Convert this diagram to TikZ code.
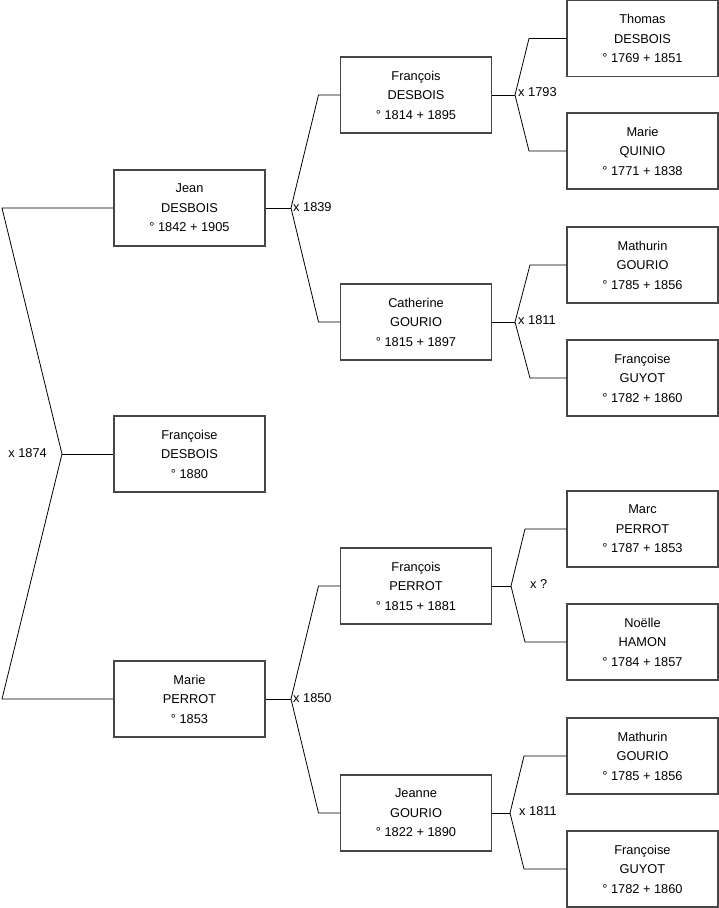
\documentclass[tikz,border=0pt]{standalone}
\usepackage{fontspec}
\setmainfont{Liberation Sans}
\begin{document}
\begin{tikzpicture}[x=1pt,y=-1pt,
  person/.style={draw={rgb,255:red,70;green,70;blue,70}, line width=1.1pt, fill=white,
    minimum width=151pt, minimum height=76pt, inner sep=0pt, align=center,
    font=\fontsize{12.8}{19.5}\selectfont},
  link/.style={draw=black, line width=0.8pt},
  marr/.style={font=\fontsize{12.8}{14}\selectfont, inner sep=1pt}]
\useasboundingbox (0,0) rectangle (719,908);
% column 1
\node[person] (jean) at (189.5,208) {Jean\\DESBOIS\\° 1842 + 1905};
\node[person] (fde) at (189.5,454) {Françoise\\DESBOIS\\° 1880};
\node[person] (marie) at (189.5,699) {Marie\\PERROT\\° 1853};
% column 2
\node[person] (frd) at (416,95) {François\\DESBOIS\\° 1814 + 1895};
\node[person] (cat) at (416,322) {Catherine\\GOURIO\\° 1815 + 1897};
\node[person] (frp) at (416,586) {François\\PERROT\\° 1815 + 1881};
\node[person] (jea) at (416,813) {Jeanne\\GOURIO\\° 1822 + 1890};
% column 3
\node[person] (tho) at (642.5,38.5) {Thomas\\DESBOIS\\° 1769 + 1851};
\node[person] (maq) at (642.5,151) {Marie\\QUINIO\\° 1771 + 1838};
\node[person] (mat1) at (642.5,265) {Mathurin\\GOURIO\\° 1785 + 1856};
\node[person] (fgu1) at (642.5,378) {Françoise\\GUYOT\\° 1782 + 1860};
\node[person] (mar) at (642.5,529) {Marc\\PERROT\\° 1787 + 1853};
\node[person] (noe) at (642.5,642) {Noëlle\\HAMON\\° 1784 + 1857};
\node[person] (mat2) at (642.5,756) {Mathurin\\GOURIO\\° 1785 + 1856};
\node[person] (fgu2) at (642.5,869) {Françoise\\GUYOT\\° 1782 + 1860};
% coordinates
\coordinate (l1) at (2,208);
\coordinate (lv) at (62,454);
\coordinate (l2) at (2,699);
\coordinate (av) at (291,208);
\coordinate (a1) at (318.5,95);
\coordinate (a2) at (318.5,322);
\coordinate (bv) at (291,699);
\coordinate (b1) at (318.5,586);
\coordinate (b2) at (318.5,813);
\coordinate (cv) at (515,95);
\coordinate (c1) at (529,38.5);
\coordinate (c2) at (529,151);
\coordinate (dv) at (515,322);
\coordinate (d1) at (530,265);
\coordinate (d2) at (530,378);
\coordinate (ev) at (511,586);
\coordinate (e1) at (525,529);
\coordinate (e2) at (525,642);
\coordinate (fv) at (510,813);
\coordinate (f1) at (524,756);
\coordinate (f2) at (524,869);
% connectors
\draw[link] (jean.west) -- (l1) -- (lv) -- (l2) -- (marie.west);
\draw[link] (lv) -- (fde.west);
\draw[link] (jean.east) -- (av);
\draw[link] (frd.west) -- (a1) -- (av) -- (a2) -- (cat.west);
\draw[link] (marie.east) -- (bv);
\draw[link] (frp.west) -- (b1) -- (bv) -- (b2) -- (jea.west);
\draw[link] (frd.east) -- (cv);
\draw[link] (tho.west) -- (c1) -- (cv) -- (c2) -- (maq.west);
\draw[link] (cat.east) -- (dv);
\draw[link] (mat1.west) -- (d1) -- (dv) -- (d2) -- (fgu1.west);
\draw[link] (frp.east) -- (ev);
\draw[link] (mar.west) -- (e1) -- (ev) -- (e2) -- (noe.west);
\draw[link] (jea.east) -- (fv);
\draw[link] (mat2.west) -- (f1) -- (fv) -- (f2) -- (fgu2.west);
% marriage labels
\node[marr, anchor=east] (m1874) at (48,453) {x 1874};
\node[marr, anchor=west] (m1839) at (292,207) {x 1839};
\node[marr, anchor=west] (m1850) at (292,698) {x 1850};
\node[marr, anchor=west] (m1793) at (517,92) {x 1793};
\node[marr, anchor=west] (m1811a) at (517,320) {x 1811};
\node[marr, anchor=west] (mq) at (529,584) {x ?};
\node[marr, anchor=west] (m1811b) at (518,811) {x 1811};
\end{tikzpicture}
\end{document}
